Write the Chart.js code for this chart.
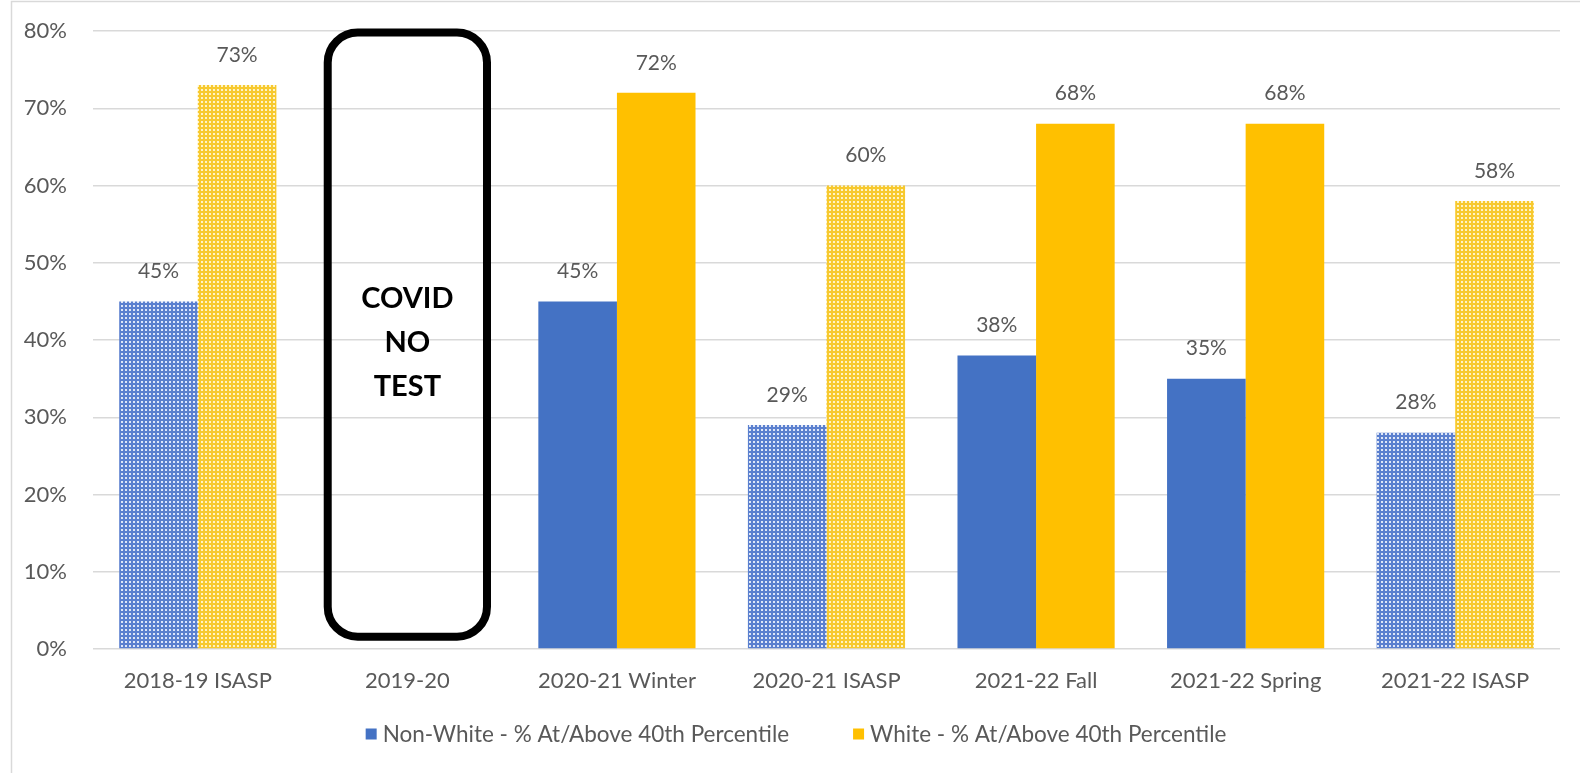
<!DOCTYPE html>
<html>
<head>
<meta charset="utf-8">
<script src="https://cdn.jsdelivr.net/npm/chart.js@4.4.1/dist/chart.umd.min.js"></script>
<style>
  html, body { margin: 0; padding: 0; background: #ffffff; }
  #wrap { width: 1580px; height: 773px; position: relative; }
</style>
</head>
<body>
<div id="wrap"><canvas id="c" width="1580" height="773"></canvas></div>
<script>
// Test administrations along the x axis
const categories = ['2018-19 ISASP', '2019-20', '2020-21 Winter', '2020-21 ISASP', '2021-22 Fall', '2021-22 Spring', '2021-22 ISASP'];
// Share of students at/above the 40th percentile (%)
const nonWhite = [45, null, 45, 29, 38, 35, 28];
const white = [73, null, 72, 60, 68, 68, 58];
// ISASP administrations are drawn with a dotted fill
const isIsasp = [true, false, false, true, false, false, true];
const seriesNames = ['Non-White - % At/Above 40th Percentile', 'White - % At/Above 40th Percentile'];
const yTickValues = [0, 10, 20, 30, 40, 50, 60, 70, 80];
const noTestIndex = 1;
const noTestNote = ['COVID', 'NO', 'TEST'];

const FONT = 'Lato, "Open Sans", sans-serif';
const TEXT = '#595959';
const BLUE = '#4472C4';
const GOLD = '#FFC000';
const seriesColors = [BLUE, GOLD];

function dottedPattern(base, dot) {
  const t = document.createElement('canvas');
  t.width = 4; t.height = 4;
  const g = t.getContext('2d');
  g.fillStyle = base; g.fillRect(0, 0, 4, 4);
  g.fillStyle = dot; g.fillRect(1, 1, 2, 2);
  return document.getElementById('c').getContext('2d').createPattern(t, 'repeat');
}
const bluePattern = dottedPattern('#5b80cf', '#dfe7f7');
const goldPattern = dottedPattern('#f7c92e', '#fff3c4');

const ctx = document.getElementById('c').getContext('2d');

const frame = {
  id: 'frame',
  beforeDraw(chart) {
    const c = chart.ctx;
    c.save();
    c.fillStyle = '#ffffff';
    c.fillRect(0, 0, chart.width, chart.height);
    c.strokeStyle = '#d9d9d9';
    c.lineWidth = 1.5;
    c.strokeRect(11.5, 1.5, chart.width + 20, chart.height + 20);
    c.restore();
  }
};

const valueLabels = {
  id: 'valueLabels',
  afterDatasetsDraw(chart) {
    const c = chart.ctx;
    c.save();
    c.font = '21px ' + FONT;
    c.fillStyle = TEXT;
    c.textAlign = 'center';
    c.textBaseline = 'middle';
    chart.data.datasets.forEach((ds, i) => {
      chart.getDatasetMeta(i).data.forEach((bar, j) => {
        const v = ds.data[j];
        if (v == null) return;
        c.fillText(v + '%', bar.x, bar.y - 30);
      });
    });
    c.restore();
  }
};

const noTestBox = {
  id: 'noTestBox',
  afterDatasetsDraw(chart) {
    const x = chart.scales.x, y = chart.scales.y;
    const c = chart.ctx;
    const cx = x.getPixelForValue(noTestIndex);
    const half = (x.width / categories.length) * 0.76 / 2;
    const top = y.getPixelForValue(79.8);
    const bottom = y.getPixelForValue(1.6);
    c.save();
    c.strokeStyle = '#000000';
    c.lineWidth = 8;
    c.beginPath();
    c.roundRect(cx - half, top, half * 2, bottom - top, 30);
    c.stroke();
    c.fillStyle = '#000000';
    c.font = 'bold 29px ' + FONT;
    c.textAlign = 'center';
    c.textBaseline = 'middle';
    const mid = y.getPixelForValue(39.7);
    noTestNote.forEach((line, k) => {
      c.fillText(line, cx, mid + (k - 1) * 44);
    });
    c.restore();
  }
};

// Legend row below the axis: small square key, short gap, then the series name
const legendRow = {
  id: 'legendRow',
  afterDraw(chart) {
    const c = chart.ctx;
    const box = 11, keyGap = 6, itemGap = 64;
    const yMid = 734;
    c.save();
    c.font = '22.5px ' + FONT;
    c.textBaseline = 'middle';
    c.textAlign = 'left';
    const widths = seriesNames.map(n => c.measureText(n).width);
    const total = widths.reduce((s, w) => s + box + keyGap + w, 0) + itemGap * (seriesNames.length - 1);
    let xPos = 796 - total / 2;
    seriesNames.forEach((name, i) => {
      c.fillStyle = seriesColors[i];
      c.fillRect(xPos, yMid - box / 2, box, box);
      c.fillStyle = TEXT;
      c.fillText(name, xPos + box + keyGap, yMid + 1);
      xPos += box + keyGap + widths[i] + itemGap;
    });
    c.restore();
  }
};

new Chart(ctx, {
  type: 'bar',
  data: {
    labels: categories,
    datasets: [
      {
        label: seriesNames[0],
        data: nonWhite,
        backgroundColor: isIsasp.map(p => p ? bluePattern : BLUE),
        borderWidth: 0,
        categoryPercentage: 0.75,
        barPercentage: 1.0
      },
      {
        label: seriesNames[1],
        data: white,
        backgroundColor: isIsasp.map(p => p ? goldPattern : GOLD),
        borderWidth: 0,
        categoryPercentage: 0.75,
        barPercentage: 1.0
      }
    ]
  },
  options: {
    responsive: false,
    animation: false,
    devicePixelRatio: 1,
    layout: { padding: { left: 10, top: 31, right: 20, bottom: 61 } },
    plugins: {
      tooltip: { enabled: false },
      legend: { display: false }
    },
    scales: {
      x: {
        grid: { display: false },
        border: { display: false },
        ticks: { font: { family: FONT, size: 22 }, color: TEXT, padding: 11 },
        afterFit(s) { s.height = 63; }
      },
      y: {
        min: 0,
        max: 80,
        afterBuildTicks(s) { s.ticks = yTickValues.map(v => ({ value: v })); },
        grid: { color: '#d9d9d9', lineWidth: 1.5, drawTicks: false },
        border: { display: false },
        ticks: { font: { family: FONT, size: 22 }, color: TEXT, padding: 26, callback: v => v + '%' },
        afterFit(s) { s.width = 83; s.paddingTop = 0; s.paddingBottom = 0; }
      }
    }
  },
  plugins: [frame, valueLabels, noTestBox, legendRow]
});
</script>
</body>
</html>
